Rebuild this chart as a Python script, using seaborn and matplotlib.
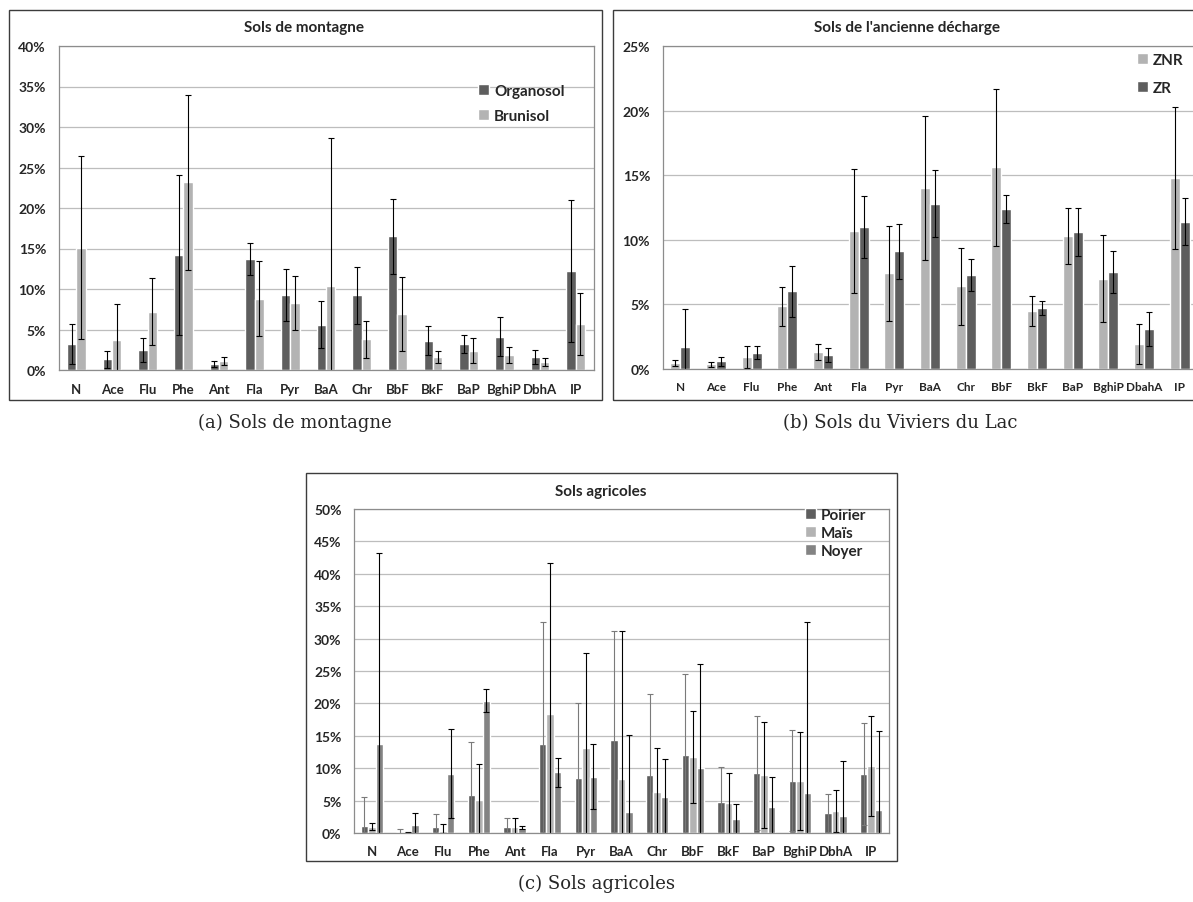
import numpy as np
import pandas as pd
import seaborn as sns
import matplotlib.pyplot as plt
from matplotlib.patches import Rectangle

# HAP labels
haps = ["N", "Ace", "Flu", "Phe", "Ant", "Fla", "Pyr", "BaA", "Chr", "BbF",
        "BkF", "BaP", "BghiP", "DbhA", "IP"]
haps_b = ["N", "Ace", "Flu", "Phe", "Ant", "Fla", "Pyr", "BaA", "Chr", "BbF",
          "BkF", "BaP", "BghiP", "DbahA", "IP"]

# (a) Sols de montagne  (% , mean and sd)
organosol = [3.2, 1.3, 2.5, 14.2, 0.7, 13.7, 9.3, 5.6, 9.2, 16.5, 3.6, 3.2, 4.1, 1.6, 12.2]
organosol_sd = [2.5, 1.1, 1.5, 9.9, 0.35, 2.0, 3.2, 2.9, 3.5, 4.6, 1.8, 1.1, 2.4, 0.9, 8.8]
brunisol = [15.1, 3.7, 7.2, 23.2, 1.1, 8.8, 8.3, 10.4, 3.8, 6.9, 1.6, 2.4, 1.9, 1.0, 5.7]
brunisol_sd = [11.3, 4.5, 4.1, 10.8, 0.45, 4.6, 3.3, 18.3, 2.3, 4.6, 0.7, 1.5, 1.0, 0.5, 3.8]

# (b) Sols de l'ancienne décharge
znr = [0.45, 0.35, 0.9, 4.85, 1.3, 10.7, 7.4, 14.0, 6.4, 15.6, 4.5, 10.3, 7.0, 1.9, 14.8]
znr_sd = [0.25, 0.2, 0.85, 1.5, 0.6, 4.8, 3.7, 5.6, 3.0, 6.1, 1.15, 2.2, 3.4, 1.55, 5.5]
zr = [1.7, 0.6, 1.25, 6.0, 1.1, 11.0, 9.1, 12.8, 7.3, 12.4, 4.75, 10.6, 7.5, 3.1, 11.4]
zr_sd = [2.95, 0.35, 0.5, 2.0, 0.55, 2.4, 2.1, 2.6, 1.25, 1.1, 0.55, 1.85, 1.6, 1.35, 1.8]

# (c) Sols agricoles
poirier = [1.1, 0.15, 0.9, 5.8, 0.9, 13.8, 8.5, 14.3, 9.0, 12.0, 4.8, 9.3, 8.1, 3.1, 9.1]
poirier_sd = [4.5, 0.45, 2.1, 8.2, 1.4, 18.7, 11.6, 16.9, 12.5, 12.6, 5.4, 8.8, 7.8, 2.9, 7.9]
mais = [0.95, 0.1, 0.35, 5.15, 1.0, 18.3, 13.1, 8.4, 6.4, 11.8, 4.6, 8.9, 8.0, 3.4, 10.3]
mais_sd = [0.55, 0.1, 1.05, 5.55, 1.3, 23.4, 14.7, 22.7, 6.7, 7.1, 4.6, 8.2, 7.6, 3.2, 7.7]
noyer = [13.8, 1.2, 9.15, 20.4, 0.8, 9.35, 8.7, 3.2, 5.6, 10.0, 2.1, 4.0, 6.2, 2.6, 3.5]
noyer_sd = [29.4, 1.9, 6.85, 1.8, 0.22, 2.25, 5.0, 11.9, 5.8, 16.1, 2.4, 4.6, 26.4, 8.5, 12.2]

DARK = "#5e5e5e"
LIGHT = "#b3b3b3"
MID = "#838383"

sns.set_style("white")
plt.rcParams["font.family"] = ["Lato", "DejaVu Sans"]
plt.rcParams["font.weight"] = "bold"

W, H = 1193, 903
fig = plt.figure(figsize=(W / 100, H / 100), dpi=100)


def px_axes(l, t, r, b):
    return fig.add_axes([l / W, 1 - b / H, (r - l) / W, (b - t) / H])


def frame(l, t, r, b):
    fig.add_artist(Rectangle((l / W, 1 - b / H), (r - l) / W, (b - t) / H,
                             transform=fig.transFigure, fill=False,
                             ec="#3c3c3c", lw=1.0))


def panel(ax, labels, series, ymax, width, colors, ecolors, leg_xy, spacing,
          xsize=9.5):
    rows = []
    for name, (vals, sd) in series.items():
        for h, v in zip(labels, vals):
            rows.append({"hap": h, "val": v, "serie": name})
    df = pd.DataFrame(rows)
    ax.set_axisbelow(True)
    ax.yaxis.grid(True, color="#bdbdbd", lw=0.9)
    sns.barplot(data=df, x="hap", y="val", hue="serie", order=labels,
                hue_order=list(series), palette=colors, width=width,
                errorbar=None, saturation=1, ax=ax)
    handles, labs = ax.get_legend_handles_labels()
    for cont, (name, (vals, sd)), ec in zip(ax.containers, series.items(), ecolors):
        xs = [p.get_x() + p.get_width() / 2 for p in cont.patches]
        ax.errorbar(xs, vals, yerr=sd, fmt="none", ecolor=ec, elinewidth=0.8,
                    capsize=2.2, capthick=0.8)
    ax.set_ylim(0, ymax)
    ax.set_xlim(-0.5, len(labels) - 0.5)
    ticks = np.arange(0, ymax + 0.01, 5)
    ax.set_yticks(ticks)
    ax.set_yticklabels([f"{t:.0f}%" for t in ticks])
    ax.set_xticks(np.arange(len(labels) + 1) - 0.5, minor=True)
    ax.tick_params(axis="x", which="major", length=0, pad=9, labelsize=xsize)
    ax.tick_params(axis="x", which="minor", length=4, color="#8c8c8c", width=0.8)
    ax.tick_params(axis="y", length=0, pad=9, labelsize=10)
    ax.set_xlabel("")
    ax.set_ylabel("")
    for s in ax.spines.values():
        s.set_color("#8c8c8c")
        s.set_linewidth(0.9)
    ax.legend(handles, labs, loc="upper left",
              bbox_to_anchor=(leg_xy[0] / W, 1 - leg_xy[1] / H),
              bbox_transform=fig.transFigure, frameon=False, fontsize=11,
              handlelength=0.75, handleheight=0.75, handletextpad=0.3,
              labelspacing=spacing, borderpad=0, borderaxespad=0)


# (a)
frame(9, 11, 602, 401)
ax_a = px_axes(58.5, 47, 593.5, 371)
panel(ax_a, haps, {"Organosol": (organosol, organosol_sd),
                   "Brunisol": (brunisol, brunisol_sd)},
      40, 0.53, [DARK, LIGHT], ["black", "black"], (478, 85), 0.7)
fig.text(304 / W, 1 - 28 / H, "Sols de montagne", ha="center", va="center",
         fontsize=11, weight="bold")
fig.text(295 / W, 1 - 423 / H, "(a) Sols de montagne", ha="center", va="center",
         family="DejaVu Serif", fontsize=13, weight="normal")

# (b)
frame(613, 11, 1215, 401)
ax_b = px_axes(662.5, 47, 1197.5, 370)
panel(ax_b, haps_b, {"ZNR": (znr, znr_sd), "ZR": (zr, zr_sd)},
      25, 0.56, [LIGHT, DARK], ["black", "black"], (1137, 54), 0.9, xsize=8.5)
fig.text(907 / W, 1 - 28 / H, "Sols de l'ancienne décharge", ha="center",
         va="center", fontsize=11, weight="bold")
fig.text(900 / W, 1 - 423 / H, "(b) Sols du Viviers du Lac", ha="center",
         va="center", family="DejaVu Serif", fontsize=13, weight="normal")

# (c)
frame(306, 474, 897, 862)
ax_c = px_axes(354, 510, 889, 834)
panel(ax_c, haps, {"Poirier": (poirier, poirier_sd), "Maïs": (mais, mais_sd),
                   "Noyer": (noyer, noyer_sd)},
      50, 0.62, [DARK, LIGHT, MID], ["#7a7a7a", "black", "black"], (805, 509), 0.25)
fig.text(601 / W, 1 - 492 / H, "Sols agricoles", ha="center", va="center",
         fontsize=11, weight="bold")
fig.text(597 / W, 1 - 884 / H, "(c) Sols agricoles", ha="center", va="center",
         family="DejaVu Serif", fontsize=13, weight="normal")

fig.savefig("out.png", dpi=100)
